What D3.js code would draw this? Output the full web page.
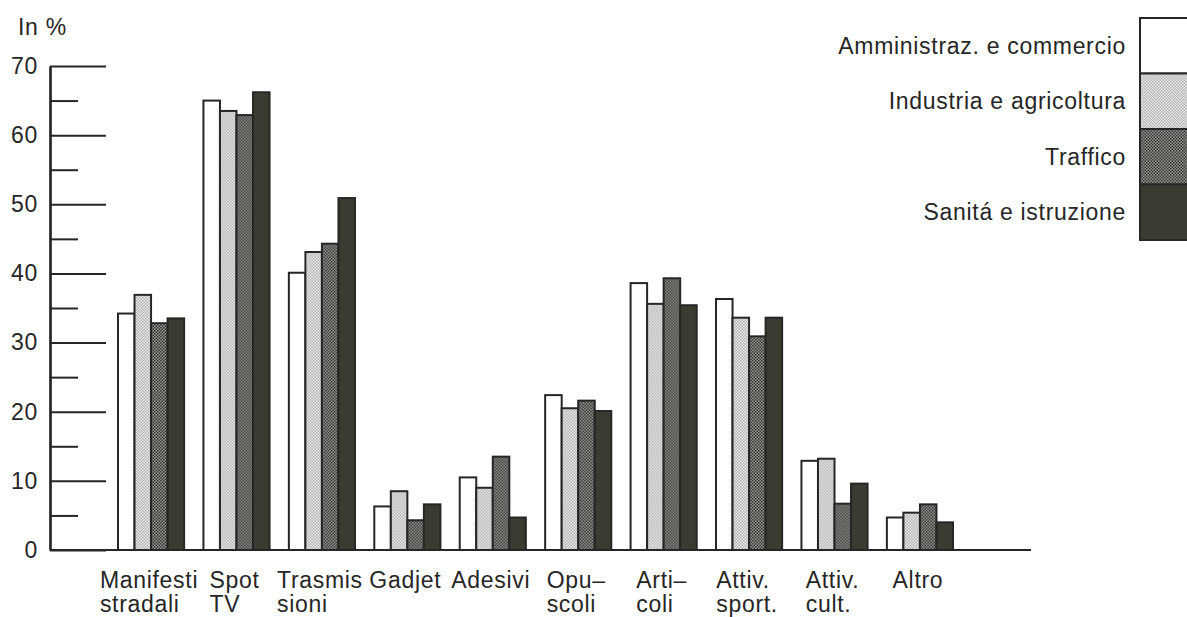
<!DOCTYPE html>
<html>
<head>
<meta charset="utf-8">
<script src="https://cdn.jsdelivr.net/npm/d3@7"></script>
<style>
  html, body { margin: 0; padding: 0; background: #fff; }
  svg { display: block; font-family: "Liberation Sans", Arial, Helvetica, sans-serif; }
</style>
</head>
<body>
<svg id="chart" width="1187" height="617"></svg>
<script>
// ---- data ----
const categories = [
  ["Manifesti", "stradali"],
  ["Spot", "TV"],
  ["Trasmis", "sioni"],
  ["Gadjet"],
  ["Adesivi"],
  ["Opu–", "scoli"],
  ["Arti–", "coli"],
  ["Attiv.", "sport."],
  ["Attiv.", "cult."],
  ["Altro"]
];
const seriesNames = [
  "Amministraz. e commercio",
  "Industria e agricoltura",
  "Traffico",
  "Sanitá e istruzione"
];
const amministrazione = [34.2, 65.0, 40.1, 6.3, 10.5, 22.4, 38.6, 36.3, 12.9, 4.7];
const industria       = [36.9, 63.5, 43.1, 8.5,  9.0, 20.5, 35.6, 33.6, 13.2, 5.4];
const traffico        = [32.8, 62.9, 44.3, 4.3, 13.5, 21.6, 39.3, 30.9,  6.7, 6.6];
const sanita          = [33.5, 66.2, 50.9, 6.6,  4.7, 20.1, 35.4, 33.6,  9.6, 4.0];
const yMajorTicks = [0, 10, 20, 30, 40, 50, 60, 70];
const yMinorTicks = [5, 15, 25, 35, 45, 55, 65];
const yTitle = "In %";

const seriesValues = [amministrazione, industria, traffico, sanita];

// ---- setup ----
const svg = d3.select("#chart");
const ink = "#262626";
const FS = 23;
const LS = 0.7;

const defs = svg.append("defs");
function dotPattern(id, bg, dot) {
  const p = defs.append("pattern").attr("id", id)
    .attr("patternUnits", "userSpaceOnUse").attr("width", 3).attr("height", 3);
  p.append("rect").attr("width", 3).attr("height", 3).attr("fill", bg);
  p.append("rect").attr("x", 0).attr("y", 0).attr("width", 1.5).attr("height", 1.5).attr("fill", dot);
  p.append("rect").attr("x", 1.5).attr("y", 1.5).attr("width", 1.5).attr("height", 1.5).attr("fill", dot);
}
dotPattern("pLight", "#ececec", "#b0b0b0");
dotPattern("pMid", "#929490", "#363834");

const fills = ["#ffffff", "url(#pLight)", "url(#pMid)", "#3b3c31"];

const x0 = d3.scaleBand().domain(d3.range(categories.length))
  .range([118, 953]).paddingInner(0.226).paddingOuter(0);
const x1 = d3.scaleBand().domain(d3.range(seriesNames.length))
  .range([0, x0.bandwidth()]);
const y = d3.scaleLinear().domain([0, 70]).range([550, 66]);

// ---- bars ----
const groups = svg.append("g").selectAll("g")
  .data(categories).join("g")
  .attr("transform", (d, i) => `translate(${x0(i)},0)`);

groups.selectAll("rect")
  .data((d, i) => seriesValues.map((s, k) => ({ k, v: s[i] })))
  .join("rect")
  .attr("x", d => x1(d.k))
  .attr("y", d => y(d.v))
  .attr("width", x1.bandwidth())
  .attr("height", d => y(0) - y(d.v))
  .attr("fill", d => fills[d.k])
  .attr("stroke", ink)
  .attr("stroke-width", 2);

// ---- axes ----
const yMajor = svg.append("g").attr("transform", "translate(50,0)")
  .call(d3.axisLeft(y).tickValues(yMajorTicks).tickSize(-56).tickSizeOuter(0).tickPadding(12).tickFormat(d3.format("d")));
const yMinor = svg.append("g").attr("transform", "translate(50,0)")
  .call(d3.axisLeft(y).tickValues(yMinorTicks).tickSize(-28).tickSizeOuter(0).tickFormat(""));
[yMajor, yMinor].forEach(g => {
  g.selectAll("line").attr("stroke", ink).attr("stroke-width", 2);
  g.select(".domain").attr("stroke", ink).attr("stroke-width", 2.2);
  g.selectAll("text").attr("font-size", FS).attr("fill", ink)
    .attr("font-family", "Liberation Sans, Arial, sans-serif")
    .attr("letter-spacing", LS);
});

// x axis baseline
svg.append("line")
  .attr("x1", 50).attr("x2", 1031)
  .attr("y1", y(0)).attr("y2", y(0))
  .attr("stroke", ink).attr("stroke-width", 2.2);

// y title
svg.append("text").attr("x", 18).attr("y", 35)
  .attr("font-size", FS).attr("fill", ink).attr("letter-spacing", LS).text(yTitle);

// ---- category labels (each line its own text, block left-aligned, centred on group) ----
const labelLayer = svg.append("g");
categories.forEach((lines, i) => {
  const texts = lines.map((ln, j) =>
    labelLayer.append("text").attr("font-size", FS).attr("fill", ink)
      .attr("letter-spacing", LS)
      .attr("x", 0).attr("y", 588 + j * 24).text(ln));
  const w = d3.max(texts, t => t.node().getComputedTextLength());
  const cx = x0(i) + x0.bandwidth() / 2;
  texts.forEach(t => t.attr("x", cx - w / 2 - 2));
});

// ---- legend ----
const ly = d3.scaleBand().domain(d3.range(seriesNames.length)).range([18, 240]);
const legend = svg.append("g");
legend.selectAll("rect").data(seriesNames).join("rect")
  .attr("x", 1140).attr("y", (d, i) => ly(i))
  .attr("width", 70).attr("height", ly.bandwidth())
  .attr("fill", (d, i) => fills[i])
  .attr("stroke", ink).attr("stroke-width", 2);
legend.selectAll("text").data(seriesNames).join("text")
  .attr("x", 1126).attr("y", (d, i) => ly(i) + ly.bandwidth() / 2)
  .attr("dy", "0.35em").attr("text-anchor", "end")
  .attr("font-size", FS).attr("fill", ink).attr("letter-spacing", LS)
  .text(d => d);
</script>
</body>
</html>
